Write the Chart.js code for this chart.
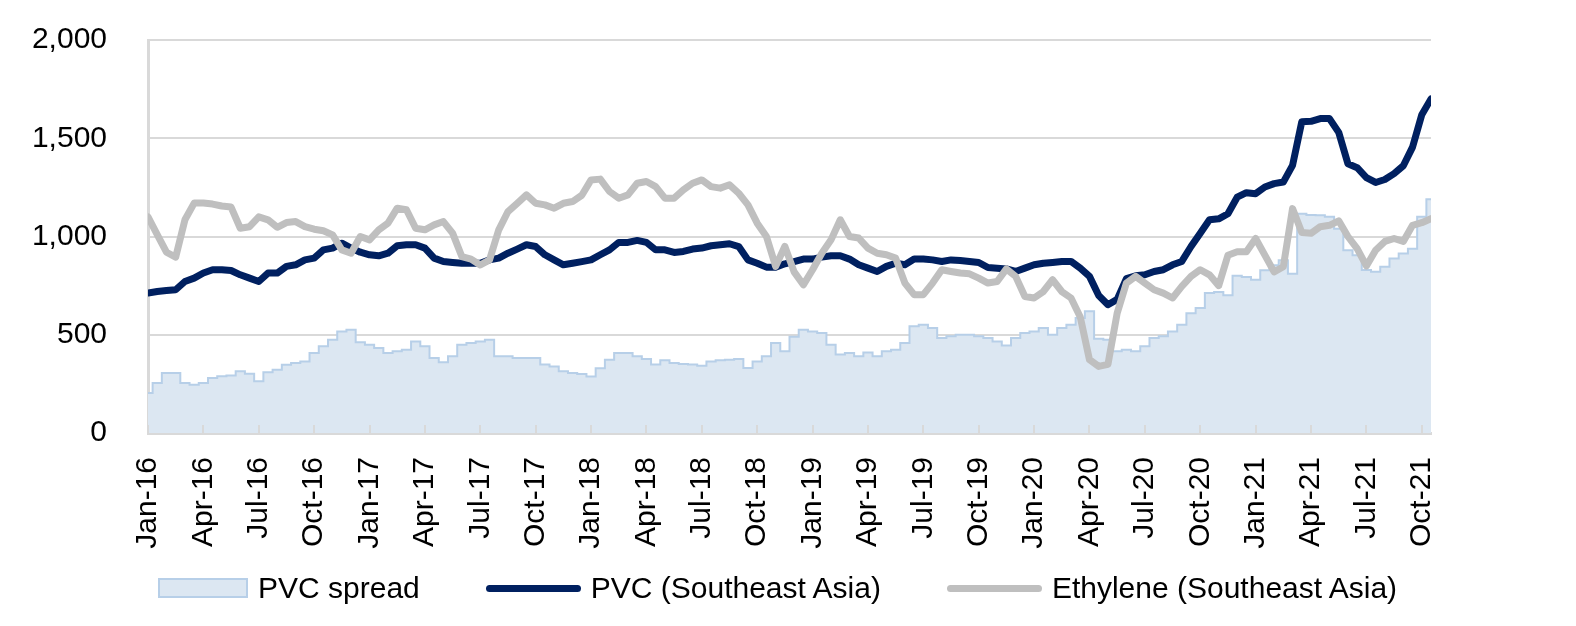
<!DOCTYPE html>
<html>
<head>
<meta charset="utf-8">
<script src="https://cdn.jsdelivr.net/npm/chart.js@4.4.1/dist/chart.umd.min.js"></script>
<style>
  html, body { margin: 0; padding: 0; background: #fff; }
  #wrap { position: relative; width: 1576px; height: 626px; }
  #chartBox { position: absolute; left: 0; top: 0; width: 1576px; height: 626px; }
  #legend {
    position: absolute; left: 0; top: 568px; width: 1576px; height: 40px;
    display: flex; align-items: center; padding-left: 158px; box-sizing: border-box;
    font-family: 'Liberation Sans', Arial, sans-serif; font-size: 30px; color: #000;
  }
  .item { display: flex; align-items: center; margin-right: 66px; white-space: nowrap; }
  .swatch { display: inline-block; margin-right: 10px; box-sizing: border-box; }
</style>
</head>
<body>
<div id="wrap">
  <div id="chartBox"><canvas id="pvcChart"></canvas></div>
  <div id="legend"></div>
</div>
<script>
// === DATA (half-month steps from Jan-16) ===
const tickLabels = ['Jan-16', 'Apr-16', 'Jul-16', 'Oct-16', 'Jan-17', 'Apr-17', 'Jul-17', 'Oct-17',
  'Jan-18', 'Apr-18', 'Jul-18', 'Oct-18', 'Jan-19', 'Apr-19', 'Jul-19', 'Oct-19',
  'Jan-20', 'Apr-20', 'Jul-20', 'Oct-20', 'Jan-21', 'Apr-21', 'Jul-21', 'Oct-21'];

const pvcSpread = [
  204, 255, 305, 305, 255, 246, 255, 280, 289, 292,
  314, 302, 263, 309, 322, 347, 356, 364, 407, 441,
  475, 517, 525, 462, 449, 433, 407, 416, 424, 466,
  441, 382, 360, 390, 449, 458, 466, 475, 390, 390,
  382, 382, 382, 348, 339, 314, 305, 300, 288, 330,
  373, 407, 407, 390, 377, 348, 370, 356, 351, 348,
  342, 364, 370, 373, 377, 331, 364, 390, 458, 416,
  490, 526, 517, 509, 449, 399, 407, 390, 410, 390,
  416, 424, 458, 543, 551, 534, 483, 492, 500, 500,
  492, 483, 466, 445, 483, 509, 517, 534, 500, 534,
  551, 585, 619, 480, 475, 416, 424, 416, 441, 483,
  492, 517, 551, 610, 636, 712, 718, 701, 800, 794,
  780, 828, 854, 879, 810, 1116, 1110, 1108, 1100, 1040,
  930, 905, 830, 820, 846, 888, 913, 938, 1100, 1190
];

const pvcSea = [
  712, 720, 725, 729, 771, 788, 814, 831, 831, 827,
  805, 788, 771, 814, 814, 848, 856, 881, 890, 932,
  941, 966, 941, 920, 907, 902, 915, 953, 958, 958,
  941, 890, 873, 868, 864, 864, 864, 881, 890, 915,
  936, 958, 949, 907, 881, 856, 864, 872, 881, 907,
  932, 970, 970, 980, 970, 932, 932, 919, 924, 936,
  941, 953, 958, 963, 949, 881, 864, 844, 844, 861,
  872, 885, 885, 895, 902, 902, 885, 856, 839, 822,
  848, 864, 856, 885, 885, 881, 873, 881, 878, 873,
  868, 842, 839, 835, 822, 839, 856, 864, 868, 873,
  873, 839, 797, 700, 653, 680, 786, 800, 805, 822,
  831, 856, 873, 949, 1017, 1085, 1090, 1116, 1200, 1223,
  1218, 1252, 1269, 1277, 1362, 1584, 1586, 1600, 1600, 1530,
  1370, 1350, 1300, 1275, 1290, 1320, 1360, 1455, 1620, 1700
];

const ethyleneSea = [
  1100, 1010, 920, 895, 1085, 1170, 1170, 1165, 1155, 1150,
  1042, 1050, 1100, 1085, 1047, 1071, 1076, 1050, 1037, 1029,
  1008, 932, 915, 1000, 983, 1034, 1068, 1144, 1136, 1042,
  1034, 1059, 1076, 1017, 898, 885, 855, 881, 1034, 1127,
  1169, 1212, 1169, 1161, 1144, 1169, 1178, 1210, 1288, 1292,
  1229, 1195, 1212, 1271, 1280, 1254, 1195, 1195, 1237, 1271,
  1288, 1254, 1246, 1263, 1220, 1161, 1068, 1000, 848, 950,
  820, 754, 831, 915, 983, 1085, 1000, 992, 941, 915,
  907, 890, 763, 704, 704, 763, 831, 822, 814, 810,
  788, 763, 771, 835, 797, 695, 687, 720, 780, 720,
  687, 590, 373, 339, 349, 610, 763, 797, 763, 729,
  712, 687, 746, 797, 831, 805, 750, 905, 922, 922,
  990, 905, 820, 846, 1142, 1020, 1016, 1050, 1057, 1080,
  1000, 938, 850, 930, 975, 990, 975, 1057, 1070, 1091
];

const periods = pvcSea.map((_, i) => i);

const FONT = "'Liberation Sans', Arial, sans-serif";
const GRID = '#d9d9d9';

// === INNER TICK MARKS ON X AXIS ===
const innerTicks = {
  id: 'innerTicks',
  afterDatasetsDraw(chart) {
    const { ctx, chartArea, scales: { x } } = chart;
    ctx.save();
    ctx.strokeStyle = GRID;
    ctx.lineWidth = 2;
    x.ticks.forEach(t => {
      const px = Math.round(x.getPixelForValue(t.value));
      ctx.beginPath();
      ctx.moveTo(px, chartArea.bottom);
      ctx.lineTo(px, chartArea.bottom - 8);
      ctx.stroke();
    });
    ctx.restore();
  }
};

// === CHART ===
const ctx = document.getElementById('pvcChart');
const chart = new Chart(ctx, {
  type: 'line',
  data: {
    labels: periods,
    datasets: [{
      label: 'PVC spread',
      data: pvcSpread,
      fill: 'origin',
      stepped: 'middle',
      backgroundColor: '#dce7f2',
      borderColor: '#b7cfe8',
      borderWidth: 2,
      pointRadius: 0,
      order: 3
    }, {
      label: 'PVC (Southeast Asia)',
      data: pvcSea,
      fill: false,
      borderColor: '#002060',
      backgroundColor: '#002060',
      borderWidth: 7,
      borderJoinStyle: 'round',
      borderCapStyle: 'round',
      pointRadius: 0,
      order: 2
    }, {
      label: 'Ethylene (Southeast Asia)',
      data: ethyleneSea,
      fill: false,
      borderColor: '#bfbfbf',
      backgroundColor: '#bfbfbf',
      borderWidth: 7,
      borderJoinStyle: 'round',
      borderCapStyle: 'round',
      pointRadius: 0,
      order: 1
    }]
  },
  options: {
    responsive: true,
    maintainAspectRatio: false,
    animation: false,
    layout: { padding: { top: 40, bottom: 66, left: 0, right: 0 } },
    scales: {
      x: {
        type: 'linear',
        min: 0,
        max: 139,
        grid: { display: true, drawOnChartArea: false, drawTicks: false },
        border: { display: true, color: GRID, width: 3 },
        afterBuildTicks: (scale) => {
          scale.ticks = tickLabels.map((_, i) => ({ value: i * 6 }));
        },
        afterFit: (scale) => { scale.height = 127; },
        ticks: {
          autoSkip: false,
          maxRotation: 90,
          minRotation: 90,
          padding: 24,
          color: '#000',
          font: { family: FONT, size: 30 },
          callback: (v, i) => tickLabels[i]
        }
      },
      y: {
        min: 0,
        max: 2000,
        grid: { color: GRID, lineWidth: 2, drawTicks: false },
        border: { display: true, color: GRID, width: 3 },
        afterFit: (scale) => {
          scale.width = 148;
          scale.paddingTop = 0;
          scale.paddingBottom = 0;
        },
        ticks: {
          stepSize: 500,
          padding: 41,
          color: '#000',
          font: { family: FONT, size: 30 },
          callback: (v) => v.toLocaleString('en-US')
        }
      },
      yRight: {
        position: 'right',
        display: true,
        grid: { display: false },
        border: { display: false },
        ticks: { display: false },
        afterFit: (scale) => { scale.width = 145; }
      }
    },
    plugins: {
      legend: { display: false },
      tooltip: { enabled: false }
    }
  },
  plugins: [innerTicks]
});

// === HTML LEGEND (from the datasets) ===
const legendBox = document.getElementById('legend');
chart.data.datasets.forEach(ds => {
  const item = document.createElement('div');
  item.className = 'item';
  const sw = document.createElement('span');
  sw.className = 'swatch';
  if (ds.fill === 'origin') {
    sw.style.width = '90px';
    sw.style.height = '20px';
    sw.style.background = ds.backgroundColor;
    sw.style.border = '2px solid ' + ds.borderColor;
  } else {
    sw.style.width = '95px';
    sw.style.height = '7px';
    sw.style.borderRadius = '4px';
    sw.style.background = ds.borderColor;
  }
  item.appendChild(sw);
  item.appendChild(document.createTextNode(ds.label));
  legendBox.appendChild(item);
});
</script>
</body>
</html>
